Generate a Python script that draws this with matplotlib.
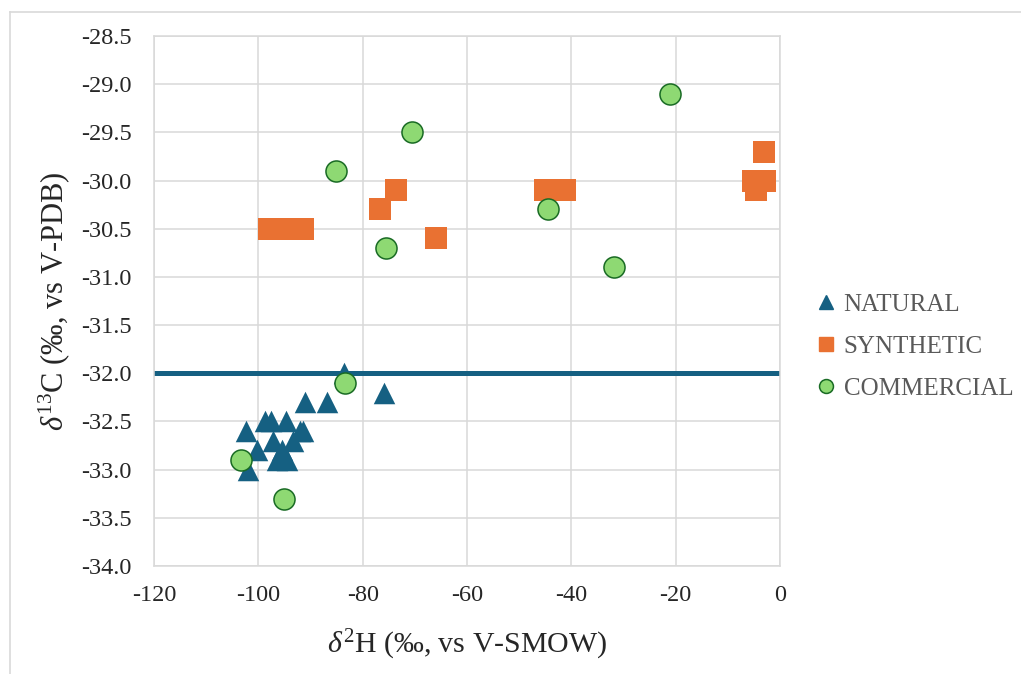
import matplotlib.pyplot as plt
from matplotlib.lines import Line2D

# d2H (x) and d13C (y) per sample group
natural_x = [-102.3, -100.3, -101.9, -98.8, -97.5, -94.7, -92.0, -91.5, -97.2, -93.3,
             -95.5, -96.5, -94.6, -91.1, -86.9, -83.5, -75.9]
natural_y = [-32.6, -32.8, -33.0, -32.5, -32.5, -32.5, -32.6, -32.6, -32.7, -32.7,
             -32.8, -32.9, -32.9, -32.3, -32.3, -32.0, -32.2]

synthetic_x = [-98.0, -96.5, -95.0, -93.5, -91.5, -76.6, -73.6, -66.0,
               -45.1, -43.0, -41.2, -5.1, -2.9, -4.6, -3.1]
synthetic_y = [-30.5, -30.5, -30.5, -30.5, -30.5, -30.3, -30.1, -30.6,
               -30.1, -30.1, -30.1, -30.0, -30.0, -30.1, -29.7]

commercial_x = [-83.3, -103.4, -95.0, -85.1, -75.5, -70.6, -44.5, -31.9, -21.1]
commercial_y = [-32.1, -32.9, -33.3, -29.9, -30.7, -29.5, -30.3, -30.9, -29.1]

threshold = -32.0

xticks = [-120, -100, -80, -60, -40, -20, 0]
yticks = [-28.5, -29.0, -29.5, -30.0, -30.5, -31.0, -31.5, -32.0, -32.5, -33.0, -33.5, -34.0]

blue = '#156082'
orange = '#E97132'
green = '#8ED973'
green_edge = '#196B24'
grid_col = '#D9D9D9'

plt.rcParams['font.family'] = ['Liberation Serif', 'DejaVu Serif']
plt.rcParams['mathtext.fontset'] = 'custom'
plt.rcParams['mathtext.rm'] = 'Liberation Serif'
plt.rcParams['mathtext.it'] = 'Liberation Serif:italic'

fig = plt.figure(figsize=(10.21, 6.74), dpi=100)
ax = fig.add_axes([154 / 1021, 1 - 566 / 674, 626 / 1021, 530 / 674])

ax.axhline(threshold, color=blue, linewidth=3.6, zorder=2)
ax.scatter(natural_x, natural_y, marker='^', s=240, color=blue, linewidths=0, zorder=3)
ax.scatter(synthetic_x, synthetic_y, marker='s', s=235, color=orange, linewidths=0, zorder=4)
ax.scatter(commercial_x, commercial_y, marker='o', s=230, color=green,
           edgecolors=green_edge, linewidths=1.1, zorder=5)

ax.set_xlim(-120, 0)
ax.set_ylim(-34.0, -28.5)
ax.set_xticks(xticks)
ax.set_yticks(yticks)
ax.set_xticklabels([str(v) for v in xticks])
ax.set_yticklabels(['%.1f' % v for v in yticks])
ax.tick_params(length=0, labelsize=17.5, colors='#262626')
ax.tick_params(axis='x', pad=14)
ax.tick_params(axis='y', pad=16)
ax.grid(True, color=grid_col, linewidth=1.1)
ax.set_axisbelow(True)
for s in ax.spines.values():
    s.set_color(grid_col)
    s.set_linewidth(1.1)

ax.set_xlabel(r'$\delta^{2}$H (‰, vs V-SMOW)', fontsize=21.5, color='#262626')
ax.set_ylabel(r'$\delta^{13}$C (‰, vs V-PDB)', fontsize=22, color='#262626')
ax.xaxis.set_label_coords(0.5, -0.117)
ax.yaxis.set_label_coords(-0.131, 0.5)

handles = [
    Line2D([], [], linestyle='none', marker='^', markersize=10, color=blue),
    Line2D([], [], linestyle='none', marker='s', markersize=10, color=orange),
    Line2D([], [], linestyle='none', marker='o', markersize=10, markerfacecolor=green,
           markeredgecolor=green_edge, markeredgewidth=1.1),
]
leg = fig.legend(handles, ['NATURAL', 'SYNTHETIC', 'COMMERCIAL'],
                 loc='center left', bbox_to_anchor=(816 / 1021, 1 - 346.5 / 674),
                 frameon=False, fontsize=18, handlelength=0.8, handletextpad=0.3,
                 labelspacing=0.78, borderpad=0, borderaxespad=0)
for t in leg.get_texts():
    t.set_color('#595959')

# chart area border (top and left only visible)
fig.add_artist(Line2D([10 / 1021, 10 / 1021], [0, 1 - 11.5 / 674], color=grid_col,
                      linewidth=1.2, transform=fig.transFigure))
fig.add_artist(Line2D([10 / 1021, 1], [1 - 11.5 / 674, 1 - 11.5 / 674], color=grid_col,
                      linewidth=1.2, transform=fig.transFigure))

fig.savefig('out.png', dpi=100)
